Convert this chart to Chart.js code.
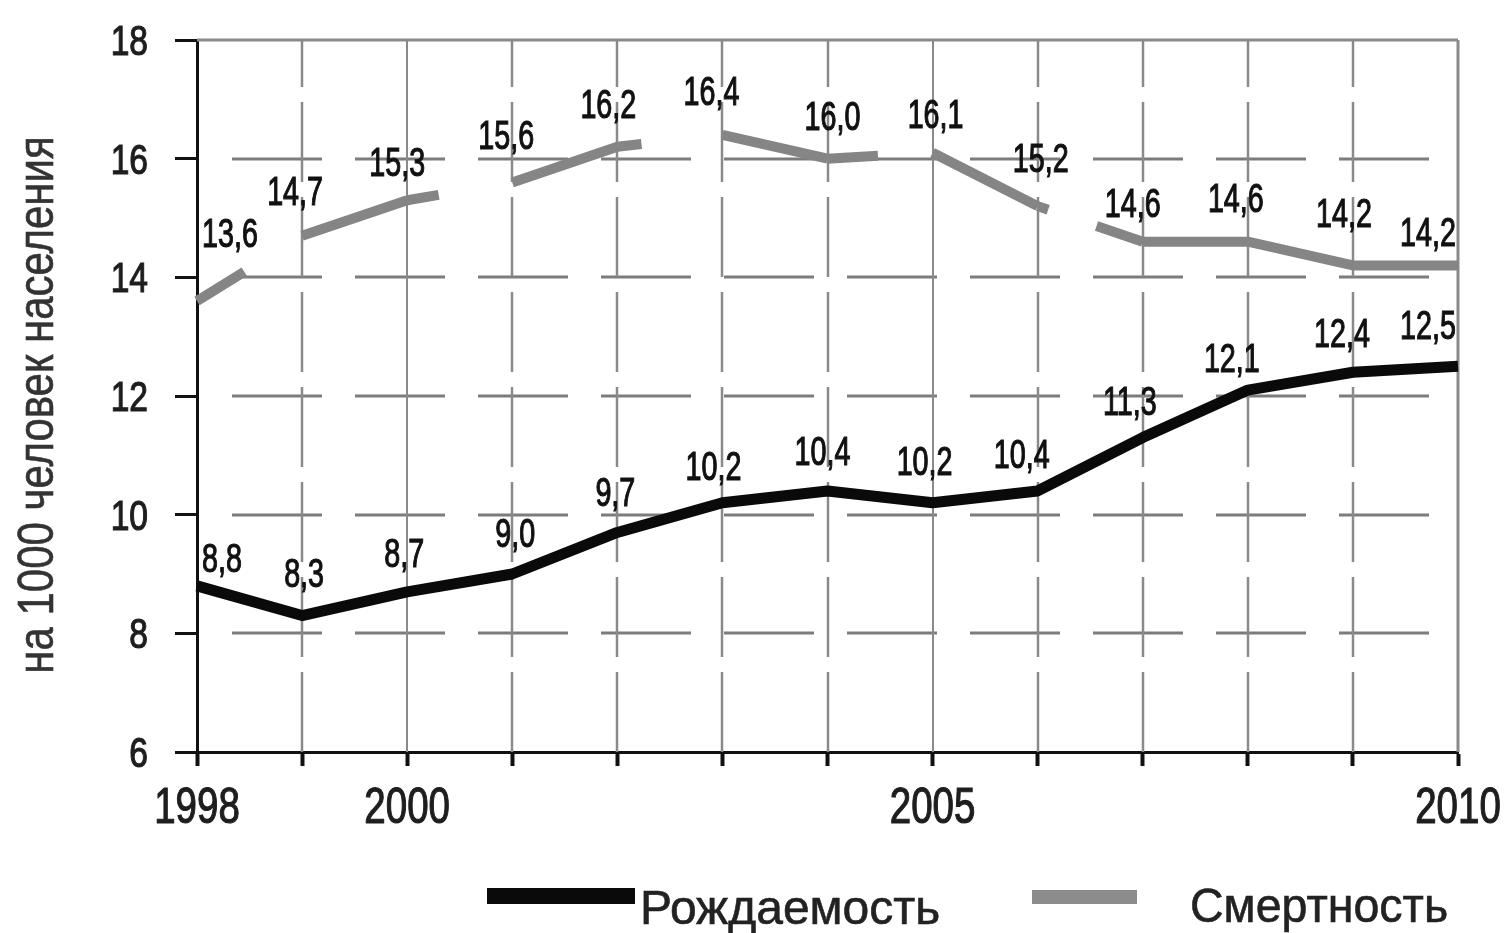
<!DOCTYPE html>
<html>
<head>
<meta charset="utf-8">
<style>
  html, body { margin: 0; padding: 0; background: #fff; }
  #wrap { width: 1506px; height: 933px; }
</style>
</head>
<body>
<div id="wrap">
  <canvas id="rates" width="1506" height="933"></canvas>
</div>

<script src="https://cdn.jsdelivr.net/npm/chart.js"></script>

<script>
  // data
  const years = ['1998', '1999', '2000', '2001', '2002', '2003', '2004', '2005', '2006', '2007', '2008', '2009', '2010'];
  const shownYears = ['1998', '2000', '2005', '2010'];
  const solidYears = ['2000', '2005', '2010'];
  const birthRate = [8.8, 8.3, 8.7, 9.0, 9.7, 10.2, 10.4, 10.2, 10.4, 11.3, 12.1, 12.4, 12.5];
  const deathRate = [13.6, 14.7, 15.3, 15.6, 16.2, 16.4, 16.0, 16.1, 15.2, 14.6, 14.6, 14.2, 14.2];
  const yTicks = [6, 8, 10, 12, 14, 16, 18];
  const seriesNames = ['Рождаемость', 'Смертность'];
  const yTitle = 'на 1000 человек населения';

  // the grey line in the source is broken: visible parts of each segment (fractions)
  const deathVisible = [[0, 0.45], [0, 1], [0, 0.3], [0, 1], [0, 0.23], [0, 1], [0, 0.48], [0, 1],
                        [0, 0.1, 0.56, 1], [0, 1], [0, 1], [0, 1]];

  // value label nudges (dx, dy to baseline) relative to the point
  const birthLabelShift = [[25, -14], [2, -29], [-3, -25], [3, -27], [-2, -26], [-9, -23], [-5, -26],
                           [-8, -28], [-16, -23], [-13, -23], [-16, -18], [-11, -25], [-30, -27]];
  const deathLabelShift = [[33, -54], [-7, -31], [-10, -24], [-6, -33], [-9, -29], [-11, -30], [5, -29],
                           [3, -25], [3, -34], [-10, -25], [-12, -30], [-9, -38], [-30, -19]];

  const SANS = '"Liberation Sans", Arial, sans-serif';
  const GREY = '#858585';

  function fmt(v) {
    return v.toFixed(1).replace('.', ',');
  }

  // text squeezed horizontally (the source uses condensed faces); weight = extra stroke
  function narrowText(ctx, text, x, y, size, sx, align, weight) {
    ctx.save();
    ctx.translate(x, y);
    ctx.scale(sx, 1);
    ctx.font = size + 'px ' + SANS;
    ctx.textAlign = align;
    ctx.textBaseline = 'alphabetic';
    ctx.fillText(text, 0, 0);
    if (weight) {
      ctx.strokeStyle = ctx.fillStyle;
      ctx.lineWidth = weight;
      ctx.strokeText(text, 0, 0);
    }
    ctx.restore();
  }

  function brokenDash(ctx) {
    const parts = deathVisible[ctx.p0DataIndex];
    if (!parts || (parts.length === 2 && parts[0] === 0 && parts[1] >= 1)) return undefined;
    const L = Math.hypot(ctx.p1.x - ctx.p0.x, ctx.p1.y - ctx.p0.y);
    const arr = [];
    let pos = 0;
    for (let k = 0; k < parts.length; k += 2) {
      const s = parts[k] * L, e = parts[k + 1] * L;
      if (arr.length === 0) {
        if (s > 0) arr.push(0, s);
      } else {
        arr.push(s - pos);
      }
      arr.push(e - s);
      pos = e;
    }
    arr.push(L * 2);
    return arr;
  }

  const gridLines = {
    id: 'gridLines',
    beforeDatasetsDraw(chart) {
      const { ctx, chartArea: a, scales: { x, y } } = chart;
      ctx.save();
      ctx.strokeStyle = '#7c7c7c';
      ctx.lineWidth = 3;
      ctx.setLineDash([90, 33]);
      ctx.lineDashOffset = 90;
      yTicks.forEach(t => {
        if (t === yTicks[0] || t === yTicks[yTicks.length - 1]) return;
        const py = Math.round(y.getPixelForValue(t));
        ctx.beginPath();
        ctx.moveTo(a.left + 2, py);
        ctx.lineTo(a.right, py);
        ctx.stroke();
      });
      ctx.setLineDash([]);
      ctx.strokeStyle = '#8a8a8a';
      ctx.beginPath();
      ctx.moveTo(a.left, a.top);
      ctx.lineTo(a.right, a.top);
      ctx.stroke();
      years.forEach((yr, i) => {
        if (i === 0) return;
        const px = Math.round(x.getPixelForValue(i));
        const solid = solidYears.includes(yr);
        ctx.strokeStyle = '#8a8a8a';
        ctx.lineWidth = solid ? (i === years.length - 1 ? 3 : 2) : 2.5;
        ctx.setLineDash(solid ? [] : [80, 15]);
        ctx.lineDashOffset = 0;
        ctx.beginPath();
        ctx.moveTo(px, a.bottom);
        ctx.lineTo(px, a.top);
        ctx.stroke();
      });
      ctx.restore();
    }
  };

  const axisText = {
    id: 'axisText',
    afterDraw(chart) {
      const { ctx, chartArea: a, scales: { x, y } } = chart;
      ctx.save();
      ctx.fillStyle = '#1e1e1e';
      yTicks.forEach(v => {
        narrowText(ctx, String(v), a.left - 49, y.getPixelForValue(v) + 15, 42, 0.8, 'right', 1.2);
      });
      shownYears.forEach(yr => {
        narrowText(ctx, yr, x.getPixelForValue(years.indexOf(yr)), a.bottom + 71, 50, 0.77, 'center', 1.2);
      });
      // rotated axis title
      ctx.fillStyle = '#333';
      ctx.save();
      ctx.translate(53, 405);
      ctx.rotate(-Math.PI / 2);
      narrowText(ctx, yTitle, 0, 0, 50, 0.84, 'center', 0.6);
      ctx.restore();
      ctx.restore();
    }
  };

  const valueLabels = {
    id: 'valueLabels',
    afterDatasetsDraw(chart) {
      const { ctx } = chart;
      const shifts = [birthLabelShift, deathLabelShift];
      ctx.save();
      ctx.fillStyle = '#111';
      chart.data.datasets.forEach((ds, di) => {
        const meta = chart.getDatasetMeta(di);
        meta.data.forEach((pt, j) => {
          const s = shifts[di][j];
          narrowText(ctx, fmt(ds.data[j]), pt.x + s[0], pt.y + s[1], 41, 0.7, 'center', 1.2);
        });
      });
      ctx.restore();
    }
  };

  const bottomLegend = {
    id: 'bottomLegend',
    afterDraw(chart) {
      const { ctx } = chart;
      const ds = chart.data.datasets;
      ctx.save();
      ctx.fillStyle = ds[0].borderColor;
      ctx.fillRect(487, 888, 148, 16);
      ctx.fillStyle = '#8c8c8c';
      ctx.fillRect(1032, 890, 105, 14);
      ctx.fillStyle = '#222';
      narrowText(ctx, ds[0].label, 640, 924, 48, 1, 'left', 0.6);
      narrowText(ctx, ds[1].label, 1190, 922, 48, 0.97, 'left', 0.6);
      ctx.restore();
    }
  };

  const canvas = document.getElementById('rates');

  new Chart(canvas, {
    type: 'line',
    data: {
      labels: years,
      datasets: [{
        label: seriesNames[0],
        data: birthRate,
        borderColor: '#0a0a0a',
        borderWidth: 11,
        borderCapStyle: 'butt',
        borderJoinStyle: 'round',
        pointRadius: 0,
        tension: 0
      }, {
        label: seriesNames[1],
        data: deathRate,
        borderColor: GREY,
        borderWidth: 10,
        borderCapStyle: 'butt',
        borderJoinStyle: 'round',
        pointRadius: 0,
        tension: 0,
        segment: {
          borderDash: brokenDash
        }
      }]
    },
    options: {
      responsive: false,
      animation: false,
      layout: {
        padding: { top: 40, right: 48, bottom: 0, left: 0 }
      },
      plugins: {
        legend: { display: false },
        tooltip: { enabled: false }
      },
      scales: {
        x: {
          grid: {
            drawOnChartArea: false,
            drawTicks: true,
            tickLength: 14,
            tickWidth: 4,
            tickColor: '#111'
          },
          border: { color: '#111', width: 3 },
          ticks: { display: false, autoSkip: false },
          afterFit: s => {
            s.height = 181;
            s.paddingLeft = 0;
            s.paddingRight = 0;
          }
        },
        y: {
          min: 6,
          max: 18,
          afterBuildTicks: s => {
            s.ticks = yTicks.map(v => ({ value: v }));
          },
          grid: {
            drawOnChartArea: false,
            drawTicks: true,
            tickLength: 22,
            tickWidth: 3,
            tickColor: '#111'
          },
          border: { color: '#111', width: 3 },
          ticks: { display: false },
          afterFit: s => {
            s.width = 197;
            s.paddingTop = 0;
            s.paddingBottom = 0;
          }
        }
      }
    },
    plugins: [gridLines, valueLabels, axisText, bottomLegend]
  });
</script>
</body>
</html>
